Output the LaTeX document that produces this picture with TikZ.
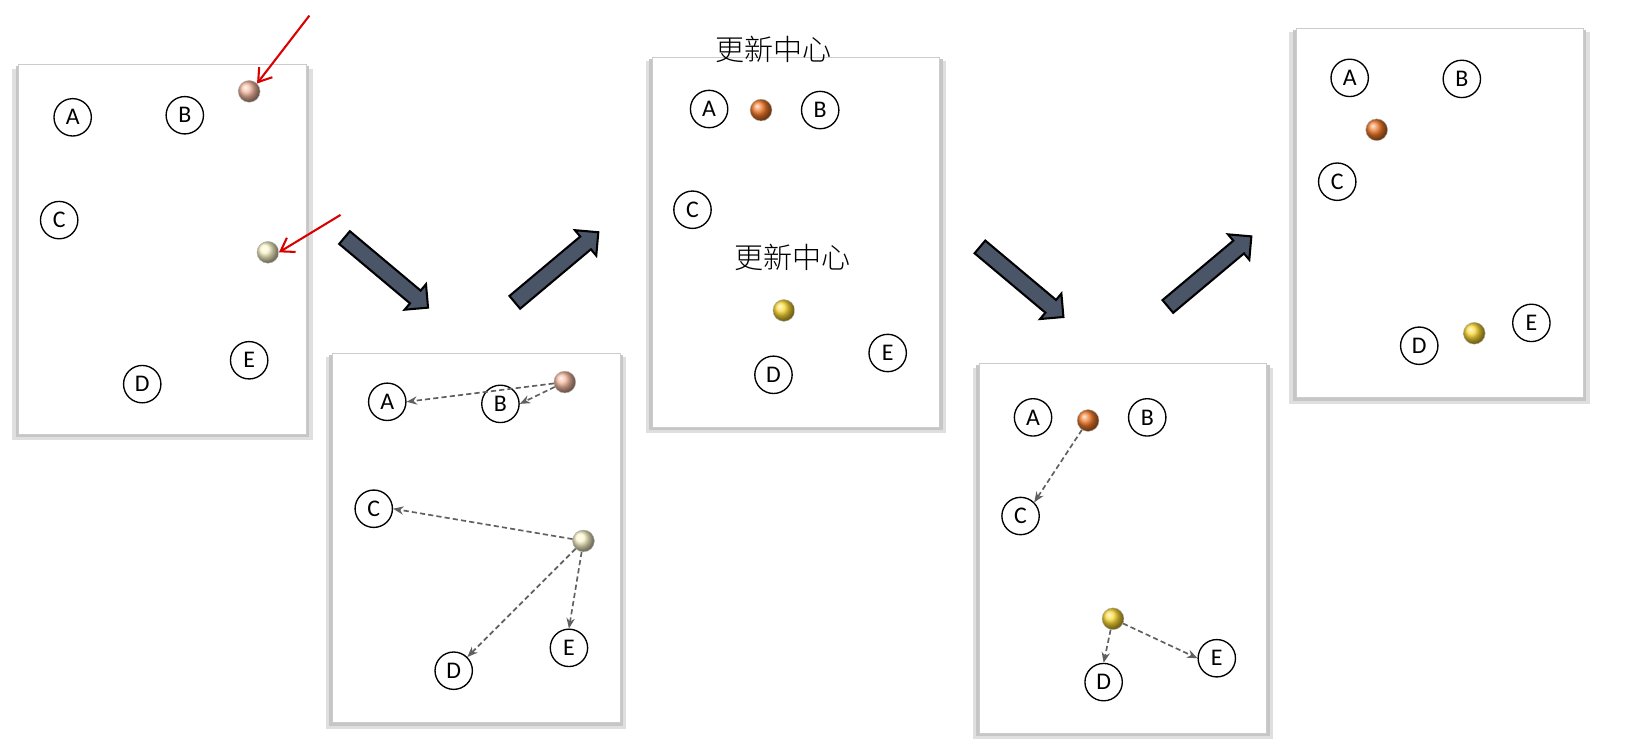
\documentclass[tikz,border=0pt]{standalone}
\usepackage{fontspec}
\setmainfont{Carlito}
\newfontfamily\cjk{Noto Sans CJK SC Light}
\usetikzlibrary{shapes.arrows,arrows.meta}
\definecolor{slate}{HTML}{4A5568}
\definecolor{gold}{RGB}{250,215,50}
\definecolor{orng}{RGB}{240,120,40}
\definecolor{peach}{RGB}{245,185,160}
\definecolor{paley}{RGB}{250,245,200}
\begin{document}
\begin{tikzpicture}[x=1pt,y=-1pt,
 panel/.style={fill=white,draw=gray!40},
 lbl/.style={circle,draw=black,line width=1.3pt,minimum size=36pt,inner sep=0pt,font=\fontsize{23}{23}\selectfont},
 orb/.style={circle,minimum size=21pt,inner sep=0pt,draw=gray!60,shading=ball},
 dasharrow/.style={draw=gray!75!black,dash pattern=on 5pt off 3pt,line width=1.6pt,-{Stealth[length=10pt,width=8pt]}},
 redarrow/.style={draw=red!85!black,line width=2pt,-{Straight Barb[length=12pt,width=16pt]}},
 bigarrow/.style={single arrow,draw=black,line width=2pt,fill=slate,minimum height=105pt,single arrow head extend=8pt,inner sep=7pt},
 ctext/.style={font=\cjk\fontsize{28}{28}\selectfont}]
% panels
\foreach \x/\y in {18/62,320/340,628/55,943/350,1248/27}{
 \fill[gray!25] (\x-6,\y+4) rectangle (\x+283,\y+362);
 \fill[gray!45] (\x-3,\y+2) rectangle (\x+280,\y+359);
 \draw[panel] (\x,\y) rectangle (\x+277,\y+356);
}
% panel 1
\node[lbl] (a1) at (70,113) {A};
\node[lbl] (b1) at (178,111) {B};
\node[lbl] (c1) at (57,212) {C};
\node[lbl] (d1) at (137,370) {D};
\node[lbl] (e1) at (240,347) {E};
\node[orb,ball color=peach] (o1) at (240,88) {};
\node[orb,ball color=paley] (y1) at (258,243) {};
\coordinate (r1) at (298,15); \coordinate (r2) at (328,207);
\draw[redarrow] (r1) -- (o1.north east);
\draw[redarrow] (r2) -- (y1.east);
% big arrows
\node[bigarrow,rotate=-40] (g1) at (369,260) {};
\node[bigarrow,rotate=40] (g2) at (533,260) {};
\node[bigarrow,rotate=-40] (g3) at (981,269) {};
\node[bigarrow,rotate=40] (g4) at (1162,264) {};
% panel 2
\node[lbl] (a2) at (373,387) {A};
\node[lbl] (b2) at (482,389) {B};
\node[lbl] (c2) at (360,490) {C};
\node[lbl] (d2) at (437,646) {D};
\node[lbl] (e2) at (548,624) {E};
\node[orb,ball color=peach] (o2) at (544,368) {};
\node[orb,ball color=paley] (y2) at (562,521) {};
\draw[dasharrow] (o2) -- (a2.east);
\draw[dasharrow] (o2) -- (b2.east);
\draw[dasharrow] (y2) -- (c2.east);
\draw[dasharrow] (y2) -- (d2.north east);
\draw[dasharrow] (y2) -- (e2.north);
% panel 3
\node[ctext] (t1) at (745,48) {更新中心};
\node[lbl] (a3) at (683,105) {A};
\node[orb,ball color=orng] (o3) at (733,106) {};
\node[lbl] (b3) at (790,106) {B};
\node[lbl] (c3) at (667,202) {C};
\node[ctext] (t2) at (763,248) {更新中心};
\node[orb,ball color=gold] (y3) at (755,299) {};
\node[lbl] (d3) at (745,361) {D};
\node[lbl] (e3) at (855,340) {E};
% panel 4
\node[lbl] (a4) at (995,402) {A};
\node[orb,ball color=orng] (o4) at (1048,405) {};
\node[lbl] (b4) at (1105,402) {B};
\node[lbl] (c4) at (983,497) {C};
\node[orb,ball color=gold] (y4) at (1072,596) {};
\node[lbl] (d4) at (1063,657) {D};
\node[lbl] (e4) at (1172,634) {E};
\draw[dasharrow] (o4) -- (c4.north east);
\draw[dasharrow] (y4) -- (d4.north);
\draw[dasharrow] (y4) -- (e4.west);
% panel 5
\node[lbl] (a5) at (1300,75) {A};
\node[lbl] (b5) at (1408,76) {B};
\node[orb,ball color=orng] (o5) at (1326,125) {};
\node[lbl] (c5) at (1288,175) {C};
\node[lbl] (d5) at (1367,333) {D};
\node[orb,ball color=gold] (y5) at (1420,321) {};
\node[lbl] (e5) at (1475,311) {E};
\pgfresetboundingbox
\useasboundingbox (0,0) rectangle (1570,720.5);
\end{tikzpicture}
\end{document}
